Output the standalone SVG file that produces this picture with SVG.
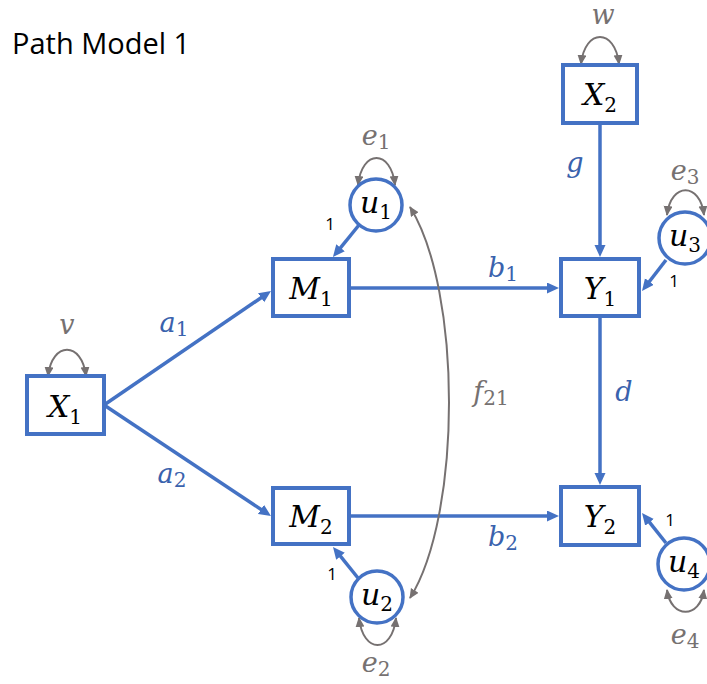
<svg xmlns="http://www.w3.org/2000/svg" width="707" height="684" viewBox="0 0 707 684">
<style>
.box{fill:#fff;stroke:#4472C4;stroke-width:4}
.circ{fill:#fff;stroke:#4472C4;stroke-width:3.5}
.path{fill:none;stroke:#4472C4;stroke-width:3.5}
.cov{fill:none;stroke:#767171;stroke-width:2}
.lbl{font-family:"DejaVu Serif",serif;font-style:italic;font-size:30px;fill:#000;text-anchor:middle}
.sub{font-style:normal;font-size:20px}
.coef{font-family:"DejaVu Serif",serif;font-style:italic;font-size:27px;fill:#3A62AD;text-anchor:middle}
.gcoef{font-family:"DejaVu Serif",serif;font-style:italic;font-size:27px;fill:#767171;text-anchor:middle}
.one{font-family:"Open Sans","Liberation Sans",sans-serif;font-size:17px;fill:#000;text-anchor:middle}
.title{font-family:"Open Sans","Liberation Sans",sans-serif;font-size:29px;fill:#000}
</style>
<defs>
<marker id="ab" markerUnits="userSpaceOnUse" markerWidth="14" markerHeight="12" refX="4" refY="5.5" orient="auto"><path d="M0,0 L12,5.5 L0,11 z" fill="#4472C4"/></marker>
<marker id="ag" markerUnits="userSpaceOnUse" markerWidth="12" markerHeight="10" refX="9" refY="4.5" orient="auto-start-reverse"><path d="M0,0 L10,4.5 L0,9 z" fill="#767171"/></marker>
</defs>
<rect width="707" height="684" fill="#fff"/>
<text class="title" x="12" y="54">Path Model 1</text>

<g id="connectors">
<path class="path" d="M104,405 L264.4,295.5" marker-end="url(#ab)"/>
<path class="path" d="M104,405 L264.3,511.6" marker-end="url(#ab)"/>
<path class="path" d="M351,288 L551,288" marker-end="url(#ab)"/>
<path class="path" d="M351,516 L551,516" marker-end="url(#ab)"/>
<path class="path" d="M600,125 L600,249" marker-end="url(#ab)"/>
<path class="path" d="M600,318 L600,477" marker-end="url(#ab)"/>
<path class="path" d="M359,225 L338,250.8" marker-end="url(#ab)"/>
<path class="path" d="M358,578 L338,553.2" marker-end="url(#ab)"/>
<path class="path" d="M666,260 L646.9,284.7" marker-end="url(#ab)"/>
<path class="path" d="M666,543 L647,519.2" marker-end="url(#ab)"/>
<path class="cov" d="M410,207 C462,290 462,515 410,598" marker-start="url(#ag)" marker-end="url(#ag)"/>
<path class="cov" d="M48,376 C52,341 82,341 86,376" marker-start="url(#ag)" marker-end="url(#ag)"/>
<path class="cov" d="M581,64 C585,28 615,28 619,64" marker-start="url(#ag)" marker-end="url(#ag)"/>
<path class="cov" d="M358,185 C362,149 391,149 395,185" marker-start="url(#ag)" marker-end="url(#ag)"/>
<path class="cov" d="M667,215 C671,182 700,182 704,215" marker-start="url(#ag)" marker-end="url(#ag)"/>
<path class="cov" d="M359,618 C363,654 392,654 396,618" marker-start="url(#ag)" marker-end="url(#ag)"/>
<path class="cov" d="M667,590 C671,619 700,619 704,590" marker-start="url(#ag)" marker-end="url(#ag)"/>
<text class="coef" x="174" y="332">a<tspan class="sub" dy="4">1</tspan></text>
<text class="coef" x="172" y="483">a<tspan class="sub" dy="4">2</tspan></text>
<text class="coef" x="503" y="277">b<tspan class="sub" dy="4">1</tspan></text>
<text class="coef" x="503" y="546">b<tspan class="sub" dy="4">2</tspan></text>
<text class="coef" x="575" y="172">g</text>
<text class="coef" x="624" y="401">d</text>
<text class="gcoef" x="491" y="401">f<tspan class="sub" dy="4">21</tspan></text>
<text class="gcoef" x="67" y="334">v</text>
<text class="gcoef" x="603" y="24">w</text>
<text class="gcoef" x="376" y="145">e<tspan class="sub" dy="4">1</tspan></text>
<text class="gcoef" x="376" y="672">e<tspan class="sub" dy="4">2</tspan></text>
<text class="gcoef" x="685" y="180">e<tspan class="sub" dy="4">3</tspan></text>
<text class="gcoef" x="685" y="644">e<tspan class="sub" dy="4">4</tspan></text>
<text class="one" x="330" y="230">1</text>
<text class="one" x="332" y="580">1</text>
<text class="one" x="674" y="287">1</text>
<text class="one" x="670" y="526">1</text>
</g>

<g id="X1"><rect class="box" x="27" y="376" width="77" height="58"/><text class="lbl" x="65" y="417">X<tspan class="sub" dy="7">1</tspan></text></g>
<g id="X2"><rect class="box" x="563" y="65" width="74" height="58"/><text class="lbl" x="600" y="105">X<tspan class="sub" dy="7">2</tspan></text></g>
<g id="M1"><rect class="box" x="273" y="259" width="76" height="57"/><text class="lbl" x="311" y="299">M<tspan class="sub" dy="7">1</tspan></text></g>
<g id="M2"><rect class="box" x="273" y="488" width="76" height="56"/><text class="lbl" x="311" y="527">M<tspan class="sub" dy="7">2</tspan></text></g>
<g id="Y1"><rect class="box" x="561" y="259" width="78" height="57"/><text class="lbl" x="600" y="299">Y<tspan class="sub" dy="7">1</tspan></text></g>
<g id="Y2"><rect class="box" x="561" y="487" width="78" height="58"/><text class="lbl" x="600" y="527">Y<tspan class="sub" dy="7">2</tspan></text></g>
<g id="u1"><circle class="circ" cx="376" cy="205" r="26"/><text class="lbl" x="376" y="213">u<tspan class="sub" dy="6">1</tspan></text></g>
<g id="u2"><circle class="circ" cx="377" cy="597" r="26"/><text class="lbl" x="377" y="605">u<tspan class="sub" dy="6">2</tspan></text></g>
<g id="u3"><circle class="circ" cx="685" cy="238" r="26"/><text class="lbl" x="685" y="246">u<tspan class="sub" dy="6">3</tspan></text></g>
<g id="u4"><circle class="circ" cx="684" cy="564" r="26"/><text class="lbl" x="684" y="572">u<tspan class="sub" dy="6">4</tspan></text></g>
</svg>
